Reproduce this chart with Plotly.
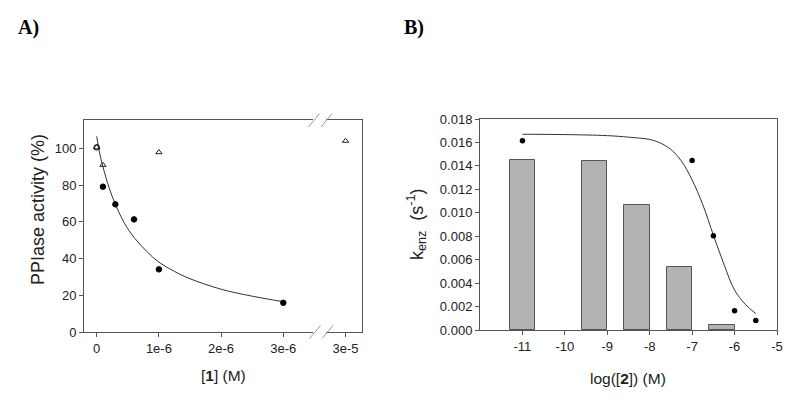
import plotly.graph_objects as go

W, H = 800, 403

# ---------------- Panel A data ----------------
conc1_circles = [0, 0.1e-6, 0.3e-6, 0.6e-6, 1.0e-6, 3.0e-6]
act_circles = [100.5, 79.1, 69.5, 61.3, 34.1, 15.9]
circle_symbols = ["circle-open", "circle", "circle", "circle", "circle", "circle"]

conc1_triangles = [0, 0.1e-6, 1.0e-6, 3e-5]
act_triangles = [100.5, 90.9, 97.8, 104.0]

fitA_x = [0, 0.05e-6, 0.1e-6, 0.2e-6, 0.3e-6, 0.45e-6, 0.6e-6, 0.8e-6, 1.0e-6,
          1.25e-6, 1.5e-6, 2.0e-6, 2.5e-6, 3.0e-6]
fitA_y = [106.5, 97.0, 90.0, 78.5, 69.5, 59.0, 51.5, 44.0, 38.0,
          33.0, 29.0, 23.3, 19.5, 16.5]

xA_tickvals = [0, 1e-6, 2e-6, 3e-6, 3e-5]
xA_ticktext = ["0", "1e-6", "2e-6", "3e-6", "3e-5"]
yA_ticks = [0, 20, 40, 60, 80, 100]

# ---------------- Panel B data ----------------
bar_logc = [-11, -9.3, -8.3, -7.3, -6.3]
bar_k = [0.01450, 0.01442, 0.01069, 0.00535, 0.00043]

dot_logc = [-11, -7.0, -6.5, -6.0, -5.5]
dot_k = [0.01615, 0.01447, 0.00805, 0.00165, 0.00080]

fitB_x = [-11, -10, -9, -8.5, -8, -7.75, -7.5, -7.25, -7, -6.75, -6.5, -6.25, -6, -5.75, -5.5]
fitB_y = [0.01670, 0.01667, 0.01658, 0.01645, 0.01625, 0.01595, 0.01540, 0.01440,
          0.01280, 0.01070, 0.00810, 0.00560, 0.00340, 0.00220, 0.00140]

xB_ticks = [-11, -10, -9, -8, -7, -6, -5]
xB_ticktext = ["-11", "-10", "-9", "-8", "-7", "-6", "-5"]


def brk(x):
    """Broken-axis position (units of 1e-6 M; 3e-5 sits after the break)."""
    return x * 1e6 if x <= 3.5e-6 else 4.0 + (x - 3e-5) * 1e6


def px(x):
    return x / W


def py(y):
    return 1 - y / H


AX = "#555555"
FONT = "Liberation Sans, Arial, sans-serif"

fig = go.Figure()

# Panel A
fig.add_trace(go.Scatter(x=[brk(v) for v in fitA_x], y=fitA_y, mode="lines",
                         line=dict(color="#333333", width=1, shape="spline"),
                         xaxis="x", yaxis="y"))
fig.add_trace(go.Scatter(x=[brk(v) for v in conc1_triangles], y=act_triangles, mode="markers",
                         marker=dict(symbol="triangle-up-open", size=5.5, color="#222222",
                                     line=dict(width=1, color="#222222")),
                         xaxis="x", yaxis="y"))
fig.add_trace(go.Scatter(x=[brk(v) for v in conc1_circles], y=act_circles, mode="markers",
                         marker=dict(symbol=circle_symbols, size=5.5, color="#000000",
                                     line=dict(width=1, color="#000000")),
                         xaxis="x", yaxis="y"))

# Panel B
fig.add_trace(go.Bar(x=bar_logc, y=bar_k, width=0.6,
                     marker=dict(color="#b3b3b3", line=dict(color="#555555", width=1)),
                     xaxis="x2", yaxis="y2"))
fig.add_trace(go.Scatter(x=fitB_x, y=fitB_y, mode="lines",
                         line=dict(color="#333333", width=1, shape="spline"),
                         xaxis="x2", yaxis="y2"))
fig.add_trace(go.Scatter(x=dot_logc, y=dot_k, mode="markers",
                         marker=dict(symbol="circle", size=5.5, color="#000000",
                                     line=dict(width=0)),
                         xaxis="x2", yaxis="y2"))

common = dict(showline=True, linecolor=AX, linewidth=1, mirror=True, ticks="outside",
              ticklen=4, tickcolor=AX, showgrid=False, zeroline=False, automargin=False,
              tickfont=dict(family=FONT, size=13, color="#222222"))

fig.update_layout(
    width=W, height=H,
    margin=dict(l=0, r=0, t=0, b=0, pad=0),
    paper_bgcolor="white", plot_bgcolor="white",
    showlegend=False, bargap=0,
    xaxis=dict(domain=[px(84), px(362)], range=[-0.204, 4.265],
               tickvals=[brk(v) for v in xA_tickvals], ticktext=xA_ticktext,
               anchor="y", **common),
    yaxis=dict(domain=[py(332), py(120)], range=[0, 115.4], tickvals=yA_ticks,
               anchor="x", **common),
    xaxis2=dict(domain=[px(480), px(777)], range=[-12, -5], tickvals=xB_ticks,
                ticktext=xB_ticktext, anchor="y2", **common),
    yaxis2=dict(domain=[py(330), py(119)], range=[0, 0.018], dtick=0.002, tick0=0,
                tickformat=".3f", anchor="x2", **common),
)

ann = []
xfont = dict(family=FONT, size=15.5, color="#222222")
yfont = dict(family=FONT, size=18, color="#222222")
base = dict(showarrow=False, xref="paper", yref="paper", xanchor="center", yanchor="middle")
ann.append(dict(x=px(38), y=py(210), text="PPIase activity (%)", textangle=-90,
                font=yfont, **base))
ann.append(dict(x=px(223), y=py(375), text="[<b>1</b>] (M)", font=xfont, **base))
ann.append(dict(x=px(416), y=py(224), text="k<sub>enz</sub>\u00a0\u00a0(s<sup>-1</sup>)",
                textangle=-90, font=yfont, **base))
ann.append(dict(x=px(628), y=py(378), text="log([<b>2</b>]) (M)", font=xfont, **base))
lfont = dict(family="Liberation Serif, Times New Roman, serif", size=20, color="#000000")
ann.append(dict(x=px(29), y=py(28), text="<b>A)</b>", font=lfont, **base))
ann.append(dict(x=px(414), y=py(28), text="<b>B)</b>", font=lfont, **base))
fig.update_layout(annotations=ann)

shapes = []
# masks for the axis break
for yc in (120, 332):
    shapes.append(dict(type="rect", xref="paper", yref="paper",
                       x0=px(313), x1=px(326), y0=py(yc + 2.5), y1=py(yc - 2.5),
                       fillcolor="white", line=dict(width=0), layer="above"))
# break marks
for (x0, y0, x1, y1) in [(308.5, 127, 319.5, 113.5), (321, 127, 332, 113.5),
                         (309.5, 338.5, 320.5, 325.5), (322, 338.5, 333, 325.5)]:
    shapes.append(dict(type="line", xref="paper", yref="paper",
                       x0=px(x0), y0=py(y0), x1=px(x1), y1=py(y1),
                       line=dict(color="#999999", width=1), layer="above"))
fig.update_layout(shapes=shapes)

fig.write_html("out.html",
               config={"displayModeBar": False},
               post_script="document.body.style.margin='0';document.body.style.overflow='hidden';")
